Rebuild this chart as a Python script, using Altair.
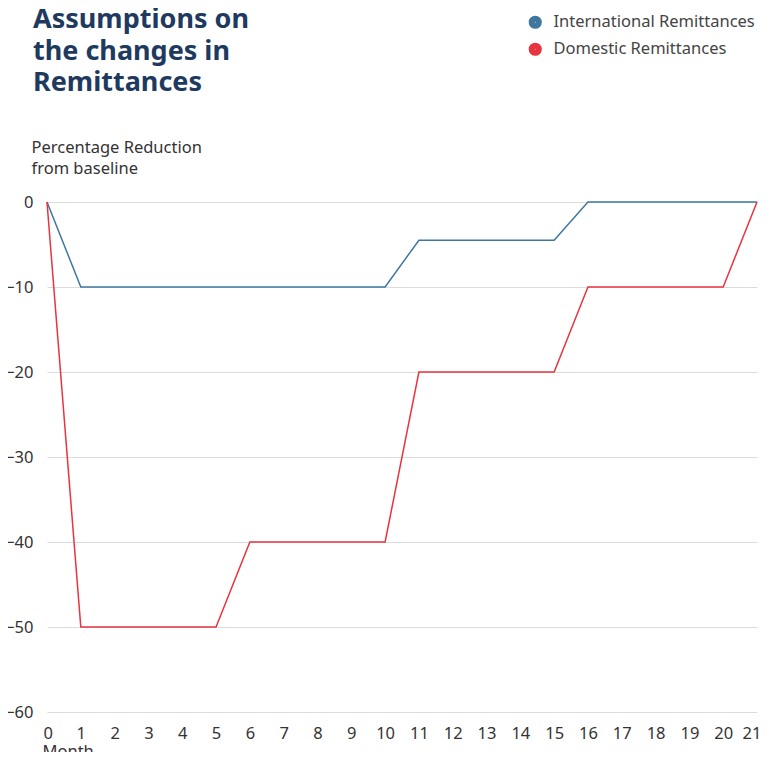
import altair as alt
import pandas as pd

months = [0, 1, 2, 3, 4, 5, 6, 7, 8, 9, 10, 11, 12, 13, 14, 15, 16, 17, 18, 19, 20, 21]
international = [0, -10, -10, -10, -10, -10, -10, -10, -10, -10, -10,
                 -4.5, -4.5, -4.5, -4.5, -4.5, 0, 0, 0, 0, 0, 0]
domestic = [0, -50, -50, -50, -50, -50, -40, -40, -40, -40, -40,
            -20, -20, -20, -20, -20, -10, -10, -10, -10, -10, 0]
series_names = ["International Remittances", "Domestic Remittances"]
series_colors = ["#3f77a1", "#e8343f"]
y_ticks = [0, -10, -20, -30, -40, -50, -60]

rows = []
for m, v in zip(months, international):
    rows.append({"month": m, "value": v, "series": series_names[0], "ord": 0})
for m, v in zip(months, domestic):
    rows.append({"month": m, "value": v, "series": series_names[1], "ord": 1})
df = pd.DataFrame(rows)

FONT = "Noto Sans"

chart = alt.Chart(df).mark_line(strokeWidth=1.5).encode(
    x=alt.X(
        "month:Q",
        scale=alt.Scale(domain=[0, 21], nice=False, zero=False),
        axis=alt.Axis(
            values=months, format="d", grid=False, domain=False, ticks=False,
            tickSize=0, labelPadding=13, labelFontSize=16.5, labelColor="#333333",
            labelFlush=True, labelFlushOffset=4, labelOverlap=False,
            title="Month", titleFontSize=16.5, titleFontWeight="normal",
            titleColor="#333333", titleAlign="left", titleAnchor="start",
            titleX=-5, titleY=44, titleBaseline="alphabetic",
        ),
    ),
    y=alt.Y(
        "value:Q",
        scale=alt.Scale(domain=[-60, 0], nice=False),
        axis=alt.Axis(
            values=y_ticks, grid=True, gridColor="#dcdcdc", gridWidth=1,
            domain=False, ticks=False, tickSize=0, labelPadding=14,
            labelFontSize=16.5, labelColor="#333333",
            title=["Percentage Reduction", "from baseline"],
            titleAngle=0, titleAlign="left", titleBaseline="alphabetic",
            titleX=-16, titleY=-50, titleFontSize=16.5, titleFontWeight="normal",
            titleColor="#333333", titleLineHeight=21,
        ),
    ),
    color=alt.Color(
        "series:N",
        scale=alt.Scale(domain=series_names, range=series_colors),
        legend=alt.Legend(
            orient="none", legendX=480, legendY=-188, title=None,
            symbolType="circle", symbolSize=38, symbolStrokeWidth=7,
            symbolOpacity=1,
            labelFontSize=16.5, labelColor="#444444", labelOffset=10,
            labelLimit=0, rowPadding=-8, padding=0,
        ),
    ),
    order=alt.Order("ord:Q"),
).properties(
    width=710,
    height=510,
    padding={"left": 39, "top": 194, "right": 4, "bottom": 40},
    autosize=alt.AutoSizeParams(type="none"),
    title=alt.TitleParams(
        text=["Assumptions on", "the changes in", "Remittances"],
        anchor="start", frame="group", fontSize=27, fontWeight="bold",
        color="#1f3a5f", font=FONT, lineHeight=31.5, dx=-14, dy=87,
    ),
).configure(
    font=FONT,
    background="white",
).configure_view(
    stroke=None,
)

chart.save("out.html", embed_options={"renderer": "svg", "actions": False})
